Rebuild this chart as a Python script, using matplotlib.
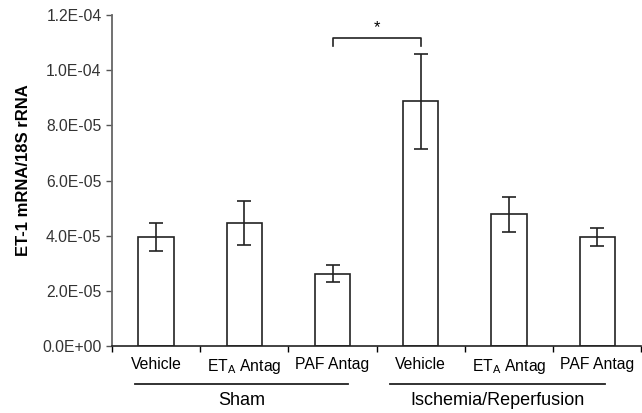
import matplotlib
matplotlib.use('Agg')
import matplotlib.pyplot as plt
import matplotlib.transforms as mtransforms

plt.rcParams['font.family'] = ['Liberation Sans', 'DejaVu Sans']
plt.rcParams['mathtext.fontset'] = 'custom'
plt.rcParams['mathtext.rm'] = 'Liberation Sans'

# data
labels = ['Vehicle', 'ET$_\\mathrm{A}$ Antag', 'PAF Antag',
          'Vehicle', 'ET$_\\mathrm{A}$ Antag', 'PAF Antag']
means = [3.96e-05, 4.45e-05, 2.62e-05, 8.87e-05, 4.77e-05, 3.96e-05]
errs = [0.50e-05, 0.80e-05, 0.30e-05, 1.73e-05, 0.63e-05, 0.33e-05]
groups = ['Sham', 'Ischemia/Reperfusion']
group_lines = [(0.26, 2.68), (3.15, 5.59)]
yticks = [0, 2e-05, 4e-05, 6e-05, 8e-05, 1.0e-04, 1.2e-04]

fig = plt.figure(figsize=(6.42, 4.13), dpi=100)
ax = fig.add_axes([0.1745, 0.1622, 0.8245, 0.8015])

x = [i + 0.5 for i in range(len(means))]
ax.bar(x, means, width=0.40, color='white', edgecolor='#222222', linewidth=1.2)
ax.errorbar(x, means, yerr=errs, fmt='none', ecolor='#222222',
            elinewidth=1.2, capsize=4.7, capthick=1.2)

ax.set_xlim(0, 6)
ax.set_ylim(0, 1.2e-04)
ax.set_yticks(yticks)
ax.set_yticklabels(['%.1E' % v for v in yticks], fontsize=11.3, color='#333333')
ax.set_ylabel('ET-1 mRNA/18S rRNA', fontsize=12, fontweight='bold')
ax.yaxis.set_label_coords(-0.153, 0.53)

ax.set_xticks(range(0, 7))
ax.set_xticklabels([])
ax.set_xticks(x, minor=True)
ax.set_xticklabels(labels, minor=True, fontsize=11.3)
ax.tick_params(axis='x', which='minor', length=0, pad=8)
ax.tick_params(axis='x', which='major', length=4, width=1, direction='out')
ax.tick_params(axis='y', length=4, width=1, direction='out', color='#555555')

for s in ['top', 'right']:
    ax.spines[s].set_visible(False)
ax.spines['left'].set_color('#666666')
ax.spines['left'].set_linewidth(1.3)
ax.spines['bottom'].set_color('#222222')
ax.spines['bottom'].set_linewidth(1.2)

# group lines and labels under the axis
trans = mtransforms.blended_transform_factory(ax.transData, ax.transAxes)
for name, (x0, x1) in zip(groups, group_lines):
    ax.plot([x0, x1], [-0.114, -0.114], color='#222222', lw=1.3,
            transform=trans, clip_on=False)
    ax.text((x0 + x1) / 2, -0.165, name, transform=trans, ha='center',
            va='center', fontsize=13)

# significance bracket
bx0, bx1 = x[2], x[3]
ax.plot([bx0, bx0, bx1, bx1], [10.87e-05, 11.18e-05, 11.18e-05, 10.87e-05],
        color='#222222', lw=1.2, clip_on=False)
ax.text((bx0 + bx1) / 2, 11.55e-05, '*', ha='center', va='center', fontsize=12)

fig.savefig('out.png', dpi=100)
